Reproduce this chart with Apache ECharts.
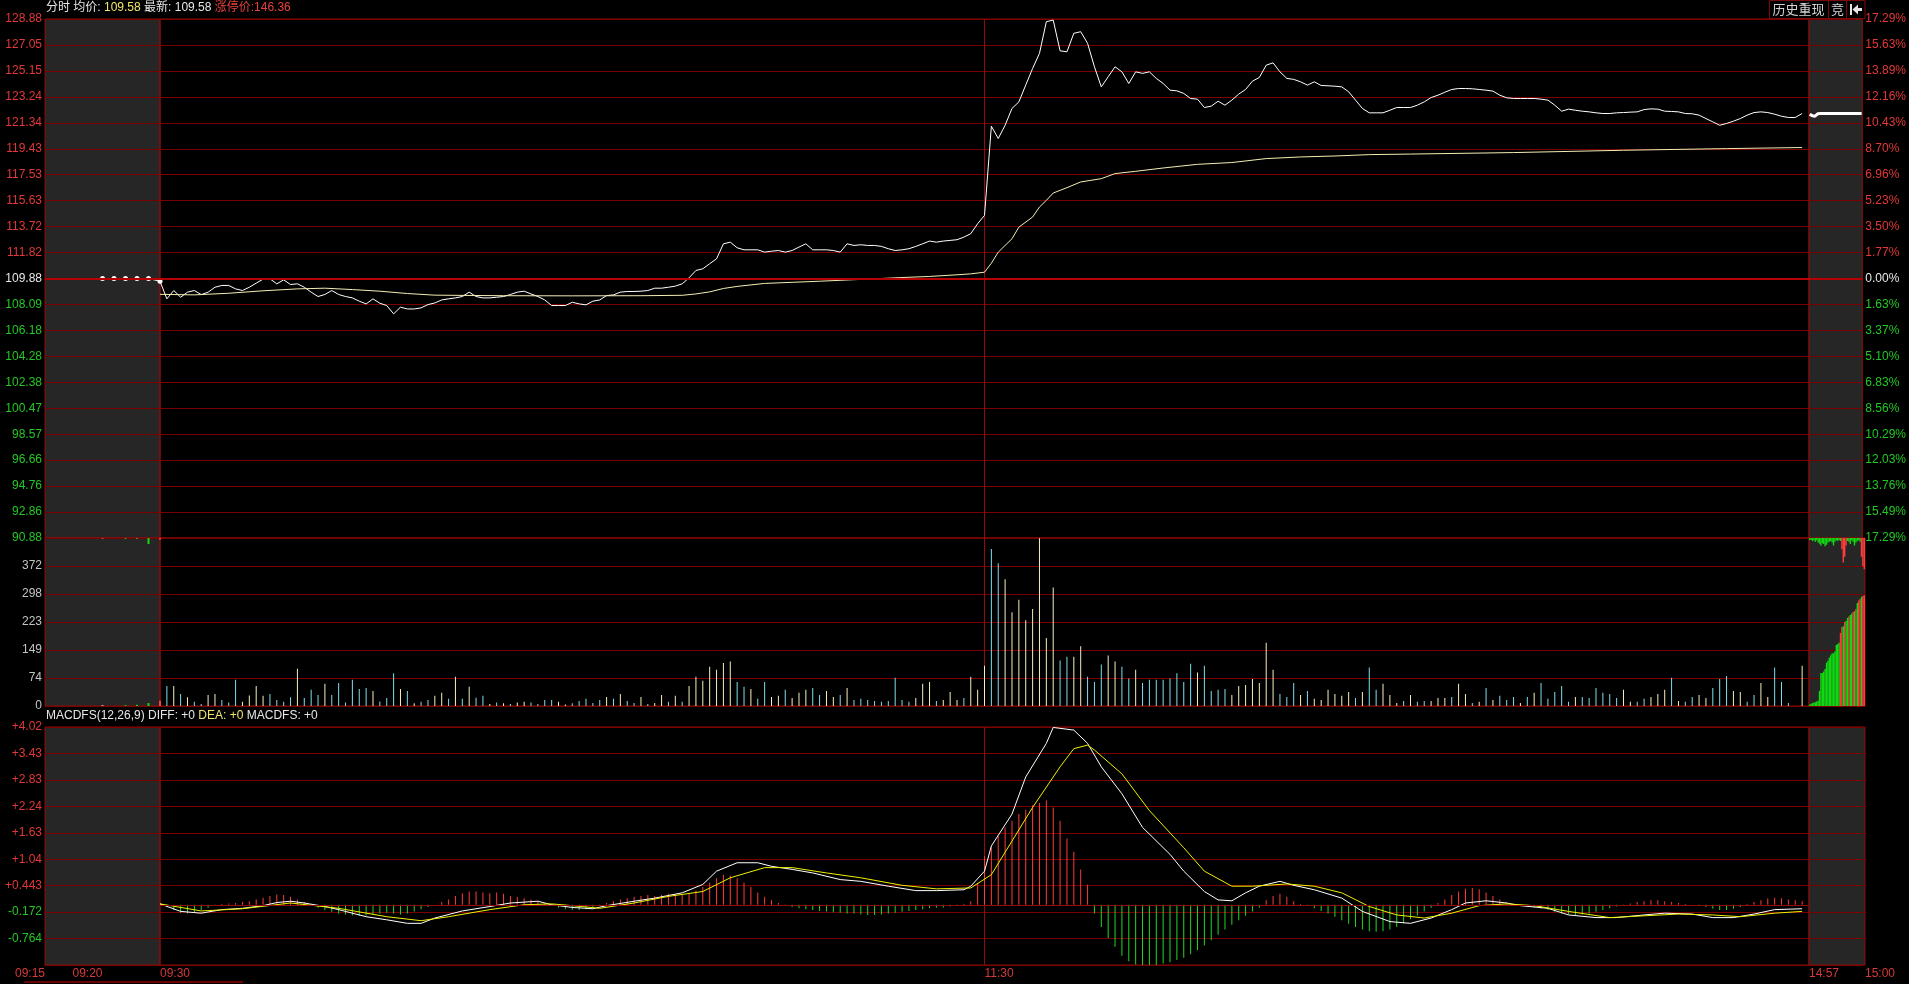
<!DOCTYPE html>
<html><head><meta charset="utf-8">
<script src="https://cdn.jsdelivr.net/npm/echarts@6/dist/echarts.min.js"></script>
<style>html,body{margin:0;padding:0;background:#000;overflow:hidden}#c{width:1909px;height:984px}</style>
</head><body><div id="c"></div>
<script>
// ================= DATA =================
const header = { avg: '109.58', last: '109.58', limitLabel: '涨停价', limit: '146.36' };
const prevClose = 109.88;

const priceTicks = ['128.88','127.05','125.15','123.24','121.34','119.43','117.53','115.63','113.72','111.82','109.88','108.09','106.18','104.28','102.38','100.47','98.57','96.66','94.76','92.86','90.88'];
const pctTicks = ['17.29%','15.63%','13.89%','12.16%','10.43%','8.70%','6.96%','5.23%','3.50%','1.77%','0.00%','1.63%','3.37%','5.10%','6.83%','8.56%','10.29%','12.03%','13.76%','15.49%','17.29%'];
const volTicks = ['', '372', '298', '223', '149', '74', '0'];
const volMax = 446.4;
const macdTicks = ['+4.02','+3.43','+2.83','+2.24','+1.63','+1.04','+0.443','-0.172','-0.764',''];
const macdMin = -1.362;

const preTimes = ['09:15','09:16','09:17','09:18','09:19','09:20','09:21','09:22','09:23','09:24','09:25'];
const postTimes = ['14:57','14:58','14:59','15:00'];

// minute price (09:30 ... 14:59)
const price = [
109.68,108.39,109.0,108.51,108.88,109.0,108.7,108.88,109.24,109.37,
109.37,109.12,109.0,109.24,109.54,109.83,109.86,109.49,109.78,109.44,
109.49,109.24,108.88,108.56,108.71,109.0,108.71,108.56,108.46,108.22,
108.02,108.39,108.07,107.9,107.29,107.78,107.65,107.65,107.73,107.97,
108.09,108.31,108.39,108.46,108.56,108.88,108.56,108.46,108.46,108.51,
108.56,108.71,108.88,108.95,108.75,108.56,108.31,107.9,107.9,107.9,
108.14,108.02,107.95,108.22,108.31,108.63,108.68,108.88,108.93,108.93,
108.95,109.0,109.17,109.17,109.24,109.32,109.49,109.93,110.47,110.59,
110.96,111.32,112.42,112.54,112.13,111.98,111.98,111.98,111.81,111.88,
111.93,111.81,111.93,112.18,112.42,111.98,111.98,111.98,111.93,111.81,
112.42,112.3,112.35,112.3,112.3,112.23,112.06,111.93,111.98,112.06,
112.23,112.42,112.62,112.54,112.62,112.67,112.72,112.91,113.16,113.89,
114.5,
121.03,120.13,121.1,122.33,122.81,124.04,125.26,126.36,128.68,128.8,
126.55,126.48,127.83,127.95,127.1,125.38,123.91,124.65,125.38,125.01,
124.16,125.01,124.9,125.01,124.53,124.16,123.67,123.62,123.43,123.06,
123.01,122.4,122.5,122.86,122.57,122.94,123.38,123.72,124.33,124.6,
125.5,125.67,125.01,124.53,124.46,124.28,124.04,124.28,124.01,123.99,
123.96,123.91,123.55,122.94,122.33,122.01,122.01,122.01,122.2,122.4,
122.4,122.4,122.57,122.81,123.13,123.3,123.52,123.72,123.79,123.79,
123.77,123.72,123.67,123.6,123.3,123.11,123.06,123.06,123.06,123.06,
123.01,122.94,122.57,122.13,122.28,122.2,122.13,122.08,122.01,121.96,
121.96,122.01,122.03,122.06,122.08,122.25,122.3,122.28,122.13,122.11,
122.08,121.96,121.94,121.84,121.59,121.35,121.1,121.23,121.4,121.59,
121.84,122.03,122.08,122.03,121.91,121.76,121.67,121.67,121.96
];

// average price line, [minute index, value]
const avgPts = [[0,108.72],[5,108.68],[10,108.8],[15,108.98],[20,109.12],[24,109.17],[28,109.07],[32,108.95],[36,108.78],[40,108.66],[50,108.62],[60,108.61],[70,108.62],[76,108.65],[78,108.75],[80,108.9],[82,109.15],[84,109.3],[88,109.52],[92,109.6],[96,109.68],[100,109.77],[104,109.86],[108,109.95],[112,110.03],[116,110.15],[118,110.22],[120,110.34],[121,111.0],[122,111.81],[124,112.79],[125,113.64],[127,114.38],[128,115.11],[129,115.6],[130,116.14],[132,116.53],[134,116.95],[137,117.19],[139,117.56],[142,117.73],[146,117.97],[151,118.24],[156,118.37],[161,118.66],[166,118.78],[171,118.85],[176,118.95],[182,118.99],[197,119.1],[213,119.27],[228,119.39],[239,119.47]];

// minute volume and bar tone (y = up/yellow, c = down/cyan, r = red)
const vol = [
7,53,53,32,23,11,5,29,32,16, 9,70,11,28,53,27,32,16,11,23,
99,21,43,29,59,29,61,9,70,45, 48,40,12,21,87,45,40,7,11,16,
27,35,19,78,19,51,22,27,5,9, 7,5,9,11,9,5,16,16,11,4,
7,13,19,8,16,24,19,32,13,8, 24,5,8,29,11,27,11,53,78,67,
104,96,114,118,64,51,45,19,64,24, 27,43,21,35,43,48,29,40,24,29,
48,16,19,16,13,11,13,75,16,11, 21,59,64,13,16,37,16,21,78,43,
107,
417,379,337,249,282,228,258,446,181,315,
121,131,131,159,78,64,110,134,118,104,
73,96,61,70,70,70,73,87,64,112,
89,107,40,43,45,29,53,56,72,61,
168,96,32,24,61,29,40,19,16,43,
32,27,37,21,37,102,43,59,29,8,
13,29,11,13,13,21,21,24,59,32,
8,11,48,16,27,16,24,8,24,35,
61,19,37,53,11,24,24,21,48,35,
32,21,43,11,11,19,24,32,43,75,
13,11,24,29,21,48,72,80,40,37,
11,29,61,24,102,64,8,0,107
];
const volTone =
 'rcycyccyyc'+'ccyyyycccc'+'ycccyccccc'+'cycccycycc'+'yycycyccyc'+'ycyyccccyy'+'cccccycycc'+'ycyycycyyy'+'yyyyccyccy'+'ycyyyccyyc'+'yccccccccc'+'yyycyyycyy'+'y'+
 'ccyyyyyyyy'+'ccyycccyyc'+'cycccccccc'+'yccccyyyyy'+'yycccycyyy'+'yyycyccyyy'+'cyccyyycyy'+'cycycccycy'+'cccccycccc'+'ccyyccyyyc'+'yccyycccyy'+'ccyyccc'+'cy';

// MACD
const diffPts = [[0,0.02],[3,-0.15],[6,-0.19],[9,-0.11],[12,-0.08],[15,-0.02],[17,0.05],[19,0.08],[21,0.04],[24,-0.04],[26,-0.11],[30,-0.27],[33,-0.34],[36,-0.42],[38,-0.42],[40,-0.3],[44,-0.14],[48,-0.04],[51,0.04],[55,0.08],[57,0],[60,-0.06],[63,-0.09],[65,-0.02],[69,0.08],[72,0.15],[76,0.27],[79,0.46],[81,0.76],[84,0.95],[87,0.95],[89,0.87],[92,0.8],[95,0.72],[99,0.57],[102,0.53],[106,0.42],[110,0.32],[113,0.32],[117,0.34],[118,0.42],[120,0.76],[121,1.33],[124,2.05],[126,2.89],[129,3.65],[130,4.01],[132,3.97],[133,3.95],[135,3.65],[137,3.12],[140,2.51],[143,1.75],[147,1.14],[149,0.76],[152,0.3],[154,0.11],[156,0.09],[158,0.27],[160,0.42],[163,0.53],[165,0.44],[168,0.34],[172,0.15],[175,-0.15],[179,-0.38],[182,-0.42],[185,-0.3],[188,-0.11],[190,0.04],[193,0.09],[196,0.04],[198,-0.02],[202,-0.08],[205,-0.23],[209,-0.29],[212,-0.29],[216,-0.23],[219,-0.19],[223,-0.21],[226,-0.29],[229,-0.29],[232,-0.21],[235,-0.11],[239,-0.09]];
const deaPts = [[0,0.02],[6,-0.14],[12,-0.09],[19,0.04],[26,-0.08],[33,-0.27],[38,-0.36],[42,-0.27],[48,-0.11],[53,0],[57,0.02],[60,-0.02],[64,-0.08],[69,0.04],[74,0.19],[79,0.3],[83,0.61],[88,0.84],[92,0.84],[97,0.72],[102,0.61],[108,0.44],[113,0.36],[118,0.38],[121,0.68],[124,1.44],[127,2.2],[131,3.12],[133,3.53],[135,3.61],[136,3.5],[140,2.96],[144,2.13],[149,1.29],[152,0.76],[156,0.42],[159,0.42],[164,0.47],[168,0.42],[172,0.27],[176,-0.04],[180,-0.23],[184,-0.3],[188,-0.19],[192,-0.02],[196,0.02],[200,-0.02],[205,-0.15],[211,-0.29],[216,-0.25],[221,-0.21],[226,-0.23],[230,-0.27],[235,-0.19],[239,-0.15]];
const macdHist = [
0,-0.05,-0.12,-0.18,-0.2,-0.17,-0.12,-0.07,-0.03,0.02,
0.03,0.04,0.06,0.08,0.12,0.16,0.2,0.23,0.22,0.18,
0.12,0.06,-0.02,-0.07,-0.12,-0.16,-0.2,-0.22,-0.24,-0.25,
-0.24,-0.22,-0.2,-0.18,-0.2,-0.22,-0.2,-0.15,-0.1,-0.05,
0,0.06,0.12,0.2,0.26,0.3,0.3,0.28,0.26,0.28,
0.25,0.2,0.18,0.15,0.12,0.08,0.03,-0.03,-0.06,-0.1,
-0.12,-0.12,-0.1,-0.06,-0.02,0.04,0.08,0.12,0.15,0.18,
0.2,0.22,0.2,0.22,0.25,0.24,0.22,0.25,0.32,0.4,
0.5,0.6,0.68,0.66,0.6,0.5,0.4,0.28,0.18,0.1,
0.04,-0.02,-0.05,-0.08,-0.1,-0.12,-0.14,-0.15,-0.17,-0.18,
-0.2,-0.2,-0.22,-0.23,-0.23,-0.22,-0.2,-0.18,-0.16,-0.14,
-0.12,-0.1,-0.08,-0.07,-0.06,-0.04,-0.02,0.02,0.08,0.5,
1.1,1.3,1.55,1.75,1.9,2.05,2.15,2.25,2.3,2.36,
2.2,1.9,1.5,1.2,0.8,0.45,-0.2,-0.5,-0.75,-0.95,
-1.15,-1.28,-1.35,-1.37,-1.37,-1.36,-1.33,-1.3,-1.25,-1.2,
-1.12,-1.02,-0.92,-0.8,-0.68,-0.56,-0.45,-0.35,-0.25,-0.15,
-0.06,0.1,0.2,0.25,0.18,0.08,0.02,-0.03,-0.08,-0.14,
-0.2,-0.27,-0.35,-0.43,-0.5,-0.56,-0.6,-0.61,-0.6,-0.56,
-0.5,-0.42,-0.33,-0.24,-0.15,-0.07,0.04,0.12,0.22,0.3,
0.36,0.38,0.35,0.28,0.2,0.12,0.05,0.02,-0.02,-0.04,
-0.06,-0.09,-0.12,-0.16,-0.2,-0.22,-0.23,-0.22,-0.2,-0.16,
-0.12,-0.08,-0.04,-0.01,0.03,0.06,0.08,0.1,0.1,0.08,
0.06,0.04,0.02,0,-0.02,-0.05,-0.09,-0.12,-0.12,-0.09,
-0.05,0.02,0.06,0.1,0.14,0.16,0.15,0.12,0.1,0.08
];

// call auction (opening)
const prePrice = [null,null,null,null,null,109.88,109.88,109.88,109.88,109.88,109.68];
const preVol   = [0,0,0,0,0,2,0,2,3,8,14];
const preHang  = [0,0,0,0,0,1,0,2,2,16,4];
const preTone  = 'wwwwwwwgggr';

// call auction (closing), tick slots
const postPrice = [121.9,121.96,121.8,121.72,121.76,121.88,121.94,121.96,121.96,121.96,
121.96,121.96,121.96,121.96,121.96,121.96,121.96,121.96,121.96,121.96,
121.96,121.96,121.96,121.96,121.96,121.96,121.96,121.96,121.96,121.96,
121.96,121.96,121.96,121.96,121.96,121.96,121.96,121.96,121.96,121.96];
const postVol  = [4,6,8,9,10,12,14,40,88,88,92,98,115,120,128,135,140,140,145,162,165,168,194,210,212,223,226,234,238,242,246,250,252,258,274,280,284,290,292,294];
const postVolTone = 'gggggggggggggggggggggg'+'rrgrggrggrgrgrrgrr';
const postHang = [5,5,8,6,10,6,12,15,20,14,16,22,18,12,10,8,12,20,10,6,8,5,8,30,65,50,20,8,10,16,6,10,20,12,8,6,10,50,75,83];
const postHangTone = 'ggggggggggggggggggggggg'+'rrrr'+'gggggggggg'+'rrr';

// ================= BUILD =================
const pad = n => (n < 10 ? '0' : '') + n;
const fmt = m => pad(Math.floor(m / 60)) + ':' + pad(m % 60);
const mainCats = [];
for (let m = 9 * 60 + 30; m <= 11 * 60 + 30; m++) mainCats.push(fmt(m));
for (let m = 13 * 60 + 1; m <= 15 * 60; m++) mainCats.push(fmt(m));
const postSlots = postVol.map((_, i) => String(i));

const FONT = 'Arial, "Liberation Sans", "Noto Sans CJK SC", sans-serif';
const C = { grid: '#7a0000', border: '#930b0b', prev: '#b80000', gray: '#262626',
  red: '#e23838', green: '#22c822', white: '#e8e8e8', label: '#c4c4c4', time: '#d63a3a' };
const TONE = { y: '#f6f0bc', c: '#7ee0ec', r: '#ff3c3c', g: '#12d812', w: '#dcdcdc' };

const cols = { pre: { l: 45, r: 160, gray: true }, main: { l: 160, r: 1809, gray: false }, post: { l: 1809, r: 1865, gray: true } };
const rows = { price: { t: 19, b: 538 }, vol: { t: 538, b: 706 }, macd: { t: 727, b: 965 } };

const grids = [], xAxes = [], yAxes = [], series = [];
function grid(col, row) {
  const c = cols[col], r = rows[row];
  grids.push({ left: c.l, top: r.t, width: c.r - c.l, height: r.b - r.t, show: true,
    backgroundColor: c.gray ? C.gray : 'transparent', borderColor: C.border, borderWidth: 1 });
  return grids.length - 1;
}
function xa(g, data, extra) {
  xAxes.push(Object.assign({ type: 'category', gridIndex: g, data, boundaryGap: false,
    axisLine: { show: false }, axisTick: { show: false }, axisLabel: { show: false }, splitLine: { show: false } }, extra || {}));
  return xAxes.length - 1;
}
function ladder(g, ticks, pos, label) {
  const n = ticks.length - 1;
  yAxes.push({ type: 'value', gridIndex: g, position: pos || 'left', min: 0, max: n, interval: 1,
    axisLine: { show: false }, axisTick: { show: false },
    splitLine: { show: true, lineStyle: { color: C.grid, width: 1 } },
    axisLabel: label ? Object.assign({ show: true, formatter: v => ticks[n - v], fontSize: 12, fontFamily: FONT, margin: 3 }, label) : { show: false } });
  return yAxes.length - 1;
}
function scaleAxis(g, min, max, inverse) {
  yAxes.push({ type: 'value', gridIndex: g, min, max, inverse: !!inverse, show: false });
  return yAxes.length - 1;
}
const vsplit = { show: true, interval: i => i === 120, lineStyle: { color: C.border, width: 1 } };
const timeLabel = (align, fn) => ({ show: true, interval: fn, align, color: C.time, fontSize: 12, fontFamily: FONT, margin: 3 });
const prevLine = { silent: true, symbol: ['none', 'none'], label: { show: false },
  lineStyle: { color: C.prev, width: 2, type: 'solid' }, emphasis: { disabled: true }, data: [{ yAxis: prevClose }] };

const pMin = parseFloat(priceTicks[priceTicks.length - 1]), pMax = parseFloat(priceTicks[0]);
const prevIdx = priceTicks.indexOf(String(prevClose));
const priceColor = v => { const k = priceTicks.length - 1 - Number(v); return k < prevIdx ? C.red : k === prevIdx ? C.white : C.green; };
const macdColor = v => { const s = macdTicks[macdTicks.length - 1 - Number(v)]; return s.charAt(0) === '-' ? C.green : C.red; };
const macdMax = parseFloat(macdTicks[0]);
const toned = (vals, tones) => vals.map((v, i) => ({ value: v, itemStyle: { color: TONE[tones[i]] } }));

// ---- price panel ----
const g0 = grid('pre', 'price'), x0 = xa(g0, preTimes);
ladder(g0, priceTicks, 'left', { color: priceColor });
const s0 = scaleAxis(g0, pMin, pMax);
const g1 = grid('main', 'price'), x1 = xa(g1, mainCats, { splitLine: vsplit });
ladder(g1, priceTicks);
const s1 = scaleAxis(g1, pMin, pMax);
const g2 = grid('post', 'price'), x2 = xa(g2, postSlots, { boundaryGap: true });
ladder(g2, pctTicks, 'right', { color: priceColor, align: 'left' });
const s2 = scaleAxis(g2, pMin, pMax);

series.push({ type: 'line', xAxisIndex: x0, yAxisIndex: s0, data: prePrice, symbol: 'circle', symbolSize: 5, showSymbol: true,
  lineStyle: { color: '#fff', width: 1 }, itemStyle: { color: '#fff' }, markLine: prevLine, z: 3 });
series.push({ type: 'line', xAxisIndex: x1, yAxisIndex: s1, data: price, symbol: 'none',
  lineStyle: { color: '#ffffff', width: 1 }, markLine: prevLine, z: 3 });
series.push({ type: 'line', xAxisIndex: x1, yAxisIndex: s1, data: avgPts, symbol: 'none',
  lineStyle: { color: '#f3eeb4', width: 1 }, z: 3 });
series.push({ type: 'line', xAxisIndex: x2, yAxisIndex: s2, data: postPrice, symbol: 'none',
  lineStyle: { color: '#ffffff', width: 3 }, markLine: prevLine });

// ---- volume panel ----
const g3 = grid('pre', 'vol'), x3 = xa(g3, preTimes);
ladder(g3, volTicks, 'left', { color: C.label });
const s3 = scaleAxis(g3, 0, volMax), h3 = scaleAxis(g3, 0, volMax, true);
const g4 = grid('main', 'vol'), x4 = xa(g4, mainCats, { splitLine: vsplit });
ladder(g4, volTicks);
const s4 = scaleAxis(g4, 0, volMax);
const g5 = grid('post', 'vol'), x5 = xa(g5, postSlots, { boundaryGap: true });
ladder(g5, volTicks);
const s5 = scaleAxis(g5, 0, volMax), h5 = scaleAxis(g5, 0, volMax, true);

series.push({ type: 'bar', xAxisIndex: x3, yAxisIndex: s3, data: toned(preVol, preTone), barWidth: 2, barGap: '-100%' });
series.push({ type: 'bar', xAxisIndex: x3, yAxisIndex: h3, data: toned(preHang, preTone), barWidth: 2, barGap: '-100%' });
series.push({ type: 'bar', xAxisIndex: x4, yAxisIndex: s4, data: toned(vol, volTone), barWidth: 1 });
series.push({ type: 'bar', xAxisIndex: x5, yAxisIndex: s5, data: toned(postVol, postVolTone), barWidth: '100%', barGap: '-100%' });
series.push({ type: 'bar', xAxisIndex: x5, yAxisIndex: h5, data: toned(postHang, postHangTone), barWidth: '100%', barGap: '-100%' });

// ---- MACD panel ----
const g6 = grid('pre', 'macd');
xa(g6, preTimes, { axisLabel: timeLabel('right', i => i === 0 || i === 5) });
ladder(g6, macdTicks, 'left', { color: macdColor });
const g7 = grid('main', 'macd');
const x7 = xa(g7, mainCats, { splitLine: vsplit, axisLabel: timeLabel('left', i => i === 0 || i === 120) });
ladder(g7, macdTicks);
const s7 = scaleAxis(g7, macdMin, macdMax);
const g8 = grid('post', 'macd');
xa(g8, postTimes, { axisLabel: timeLabel('left', i => i === 0 || i === postTimes.length - 1) });
ladder(g8, macdTicks);

series.push({ type: 'bar', xAxisIndex: x7, yAxisIndex: s7, barWidth: 1,
  data: macdHist.map(v => ({ value: v, itemStyle: { color: v >= 0 ? '#ff3a3a' : '#22d822' } })),
  markLine: Object.assign({}, prevLine, { lineStyle: { color: C.border, width: 1, type: 'solid' }, data: [{ yAxis: 0 }] }) });
series.push({ type: 'line', xAxisIndex: x7, yAxisIndex: s7, data: diffPts, symbol: 'none', lineStyle: { color: '#ffffff', width: 1 }, z: 4 });
series.push({ type: 'line', xAxisIndex: x7, yAxisIndex: s7, data: deaPts, symbol: 'none', lineStyle: { color: '#f0f000', width: 1 }, z: 4 });

const rich = {
  w: { color: '#e6e6e6', fontSize: 12, fontFamily: FONT, fontWeight: 'normal' },
  y: { color: '#f0e66a', fontSize: 12, fontFamily: FONT, fontWeight: 'normal' },
  r: { color: '#e84040', fontSize: 12, fontFamily: FONT, fontWeight: 'normal' }
};

const option = {
  backgroundColor: '#000',
  animation: false,
  title: [
    { left: 46, top: 2, padding: 0,
      text: '{w|分时 均价: }{y|' + header.avg + '}{w| 最新: ' + header.last + '} {r|' + header.limitLabel + ':' + header.limit + '}',
      textStyle: { fontSize: 12, fontWeight: 'normal', rich } },
    { left: 46, top: 710, padding: 0,
      text: '{w|MACDFS(12,26,9) DIFF: +0 }{y|DEA: +0 }{w|MACDFS: +0}',
      textStyle: { fontSize: 12, fontWeight: 'normal', rich } }
  ],
  grid: grids, xAxis: xAxes, yAxis: yAxes, series,
  graphic: [
    { type: 'rect', shape: { x: 1769.5, y: 0.5, width: 59, height: 18 }, style: { fill: '#000', stroke: '#7a0b0b', lineWidth: 1 } },
    { type: 'text', x: 1798.5, y: 9.5, style: { text: '历史重现', fill: '#d4d4d4', font: '13px "Noto Sans CJK SC", sans-serif', textAlign: 'center', textVerticalAlign: 'middle' } },
    { type: 'rect', shape: { x: 1828.5, y: 0.5, width: 18, height: 18 }, style: { fill: '#000', stroke: '#7a0b0b', lineWidth: 1 } },
    { type: 'text', x: 1837.5, y: 9.5, style: { text: '竞', fill: '#d4d4d4', font: '13px "Noto Sans CJK SC", sans-serif', textAlign: 'center', textVerticalAlign: 'middle' } },
    { type: 'rect', shape: { x: 1846.5, y: 0.5, width: 18.5, height: 18 }, style: { fill: '#000', stroke: '#7a0b0b', lineWidth: 1 } },
    { type: 'rect', shape: { x: 1850, y: 4, width: 2, height: 11 }, style: { fill: '#e6e6e6' } },
    { type: 'polygon', shape: { points: [[1852.5, 9.5], [1858, 4.5], [1858, 14.5]] }, style: { fill: '#e6e6e6' } },
    { type: 'rect', shape: { x: 1857, y: 8, width: 5, height: 3 }, style: { fill: '#e6e6e6' } },
    { type: 'line', shape: { x1: 24, y1: 982, x2: 243, y2: 982 }, style: { stroke: '#6a0000', lineWidth: 2 } }
  ]
};

echarts.init(document.getElementById('c'), null, { renderer: 'canvas' }).setOption(option);
</script>
</body></html>
